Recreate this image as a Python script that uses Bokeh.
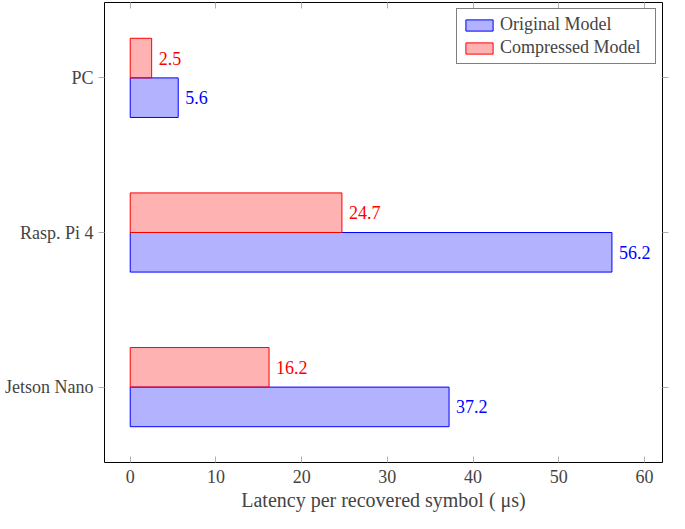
from bokeh.plotting import figure
from bokeh.models import ColumnDataSource, LinearAxis, Range1d, FixedTicker, Legend, LegendItem
from bokeh.transform import dodge
from bokeh.embed import file_html
from bokeh.resources import INLINE

devices = ["Jetson Nano", "Rasp. Pi 4", "PC"]
original = [37.2, 56.2, 5.6]
compressed = [16.2, 24.7, 2.5]
x_ticks = [0, 10, 20, 30, 40, 50, 60]

FONT = "Liberation Serif"
FS = "18px"
BLUE = "#0000ff"
RED = "#ff0000"

pos = list(range(len(devices)))
src = ColumnDataSource(dict(
    y=pos, orig=original, comp=compressed,
    orig_lbl=[f"{v:.1f}" for v in original],
    comp_lbl=[f"{v:.1f}" for v in compressed],
))

p = figure(width=669, height=513, output_backend="svg", toolbar_location=None,
           x_range=Range1d(-3, 62.1), y_range=Range1d(-0.4875, 2.4875),
           min_border_left=104, min_border_right=7, min_border_top=2, min_border_bottom=50)
p.grid.visible = False
p.outline_line_color = "black"
p.outline_line_width = 1
p.background_fill_color = "white"
p.border_fill_color = "white"

bh = 0.256
off = 0.128
r_orig = p.hbar(y=dodge("y", -off), right="orig", left=0, height=bh, source=src,
                fill_color=BLUE, fill_alpha=0.3, line_color=BLUE, line_width=1)
r_comp = p.hbar(y=dodge("y", off), right="comp", left=0, height=bh, source=src,
                fill_color=RED, fill_alpha=0.3, line_color=RED, line_width=1)

p.text(x="orig", y=dodge("y", -off), text="orig_lbl", source=src, x_offset=7,
       text_font=FONT, text_font_size=FS, text_color=BLUE, text_baseline="middle")
p.text(x="comp", y=dodge("y", off), text="comp_lbl", source=src, x_offset=7,
       text_font=FONT, text_font_size=FS, text_color=RED, text_baseline="middle")

xa = p.xaxis[0]
xa.ticker = FixedTicker(ticks=x_ticks)
xa.axis_line_color = None
xa.major_tick_in = 6
xa.major_tick_out = 0
xa.major_tick_line_color = "#b0b0b0"
xa.minor_tick_line_color = None
xa.major_label_text_font = FONT
xa.major_label_text_font_size = FS
xa.major_label_standoff = 7
xa.axis_label = "Latency per recovered symbol ( μs)"
xa.axis_label_text_font = FONT
xa.axis_label_text_font_size = "20px"
xa.axis_label_text_font_style = "normal"
xa.axis_label_standoff = 3

ya = p.yaxis[0]
ya.ticker = FixedTicker(ticks=pos)
ya.major_label_overrides = {i: d for i, d in zip(pos, devices)}
ya.axis_line_color = None
ya.major_tick_in = 0
ya.major_tick_out = 6
ya.major_tick_line_color = "#b0b0b0"
ya.minor_tick_line_color = None
ya.major_label_text_font = FONT
ya.major_label_text_font_size = FS
ya.major_label_standoff = 5

top = LinearAxis(ticker=FixedTicker(ticks=x_ticks), axis_line_color=None,
                 major_tick_in=6, major_tick_out=0, major_tick_line_color="#b0b0b0",
                 minor_tick_line_color=None,
                 major_label_overrides={t: "" for t in x_ticks})
p.add_layout(top, "above")
right = LinearAxis(ticker=FixedTicker(ticks=pos), axis_line_color=None,
                   major_tick_in=0, major_tick_out=6, major_tick_line_color="#b0b0b0",
                   minor_tick_line_color=None,
                   major_label_overrides={i: "" for i in pos})
p.add_layout(right, "right")

legend = Legend(items=[LegendItem(label="Original Model", renderers=[r_orig]),
                       LegendItem(label="Compressed Model", renderers=[r_comp])],
                location="top_right", margin=6, padding=5, spacing=2,
                label_text_font=FONT, label_text_font_size=FS,
                glyph_width=34, glyph_height=14, label_standoff=4, label_width=150,
                border_line_color="black", border_line_width=1,
                background_fill_alpha=1.0)
p.add_layout(legend, "center")

open("out.html", "w").write(file_html(p, INLINE))
